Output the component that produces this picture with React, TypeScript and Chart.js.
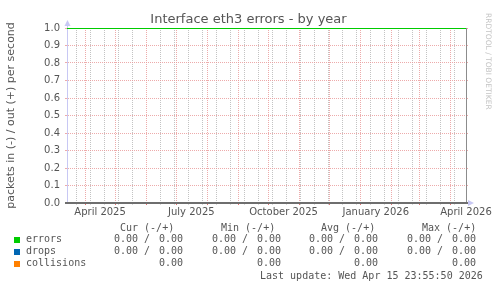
import React, { useEffect, useRef } from "react";
import { Chart, registerables } from "chart.js";

Chart.register(...registerables);

const chartTitle = "Interface eth3 errors - by year";
const yAxisLabel = "packets in (-) / out (+) per second";
const watermark = "RRDTOOL / TOBI OETIKER";
const lastUpdate = "Last update: Wed Apr 15 23:55:50 2026";

const rangeStart = "2025-03-14";
const rangeEnd = "2026-04-16";

const monthLines = [
  "2025-04-01", "2025-05-01", "2025-06-01", "2025-07-01", "2025-08-01", "2025-09-01", "2025-10-01",
  "2025-11-01", "2025-12-01", "2026-01-01", "2026-02-01", "2026-03-01", "2026-04-01",
];
const weekLines = [
  "2025-03-23", "2025-04-06", "2025-04-20", "2025-05-04", "2025-05-18", "2025-06-01", "2025-06-15",
  "2025-06-29", "2025-07-13", "2025-07-27", "2025-08-10", "2025-08-24", "2025-09-07", "2025-09-21",
  "2025-10-05", "2025-10-19", "2025-11-02", "2025-11-16", "2025-11-30", "2025-12-14", "2025-12-28",
  "2026-01-11", "2026-01-25", "2026-02-08", "2026-02-22", "2026-03-08", "2026-03-22", "2026-04-05",
];
const xLabelDates = ["2025-04-16", "2025-07-16", "2025-10-16", "2026-01-16", "2026-04-16"];
const xLabelTexts = ["April 2025", "July 2025", "October 2025", "January 2026", "April 2026"];
const yTickValues = [0, 0.1, 0.2, 0.3, 0.4, 0.5, 0.6, 0.7, 0.8, 0.9, 1.0];

const sampleDates = ["2025-03-14", "2026-04-16"];
const errorsValues = [1, 1];
const dropsValues = [0, 0];
const collisionsValues = [0, 0];

const seriesNames = ["errors", "drops", "collisions"];
const seriesColors = ["#00CC00", "#0066B3", "#FF8000"];
const statColumns = ["Cur", "Min", "Avg", "Max"];
const errorsStats = [[0, 0], [0, 0], [0, 0], [0, 0]];
const dropsStats = [[0, 0], [0, 0], [0, 0], [0, 0]];
const collisionsStats = [0, 0, 0, 0];

const DAY = 86400000;
const toDay = (s: string) => Date.parse(s + "T00:00:00Z") / DAY;

const MAJOR = "rgba(232, 150, 150, 0.8)";
const MINOR = "rgba(185, 185, 185, 0.85)";
const TEXT = "#555555";
const FONT = "'DejaVu Sans', sans-serif";
const MONO = "'DejaVu Sans Mono', monospace";

const headerX = [120, 221, 321, 422];
const inX = [114, 212, 309, 407];
const outX = [159, 257, 354, 452];
const rowTop = [233, 245, 257];

export default function App() {
  const ref = useRef<HTMLCanvasElement | null>(null);

  useEffect(() => {
    const kinds = new Map<number, string>();
    weekLines.forEach((d) => kinds.set(toDay(d), "week"));
    monthLines.forEach((d) => kinds.set(toDay(d), "month"));
    const labelMap = new Map<number, string>();
    xLabelDates.forEach((d, i) => {
      labelMap.set(toDay(d), xLabelTexts[i]);
      if (!kinds.has(toDay(d))) kinds.set(toDay(d), "label");
    });
    const xTickVals = Array.from(kinds.keys()).sort((a, b) => a - b);

    const gridColor = (ctx: any) => {
      const k = kinds.get(ctx.tick?.value);
      if (k === "month") return MAJOR;
      if (k === "week") return MINOR;
      return "rgba(0,0,0,0)";
    };
    const tickColor = (ctx: any) => {
      const k = kinds.get(ctx.tick?.value);
      if (k === "month") return "rgba(225, 100, 100, 0.9)";
      if (k === "week") return "rgba(190,190,190,0.6)";
      return "rgba(0,0,0,0)";
    };

    const decor = {
      id: "decor",
      afterDatasetsDraw(chart: any) {
        const { ctx, chartArea: a } = chart;
        ctx.save();
        // bottom axis line
        ctx.strokeStyle = "#6e6e6e";
        ctx.lineWidth = 2;
        ctx.beginPath();
        ctx.moveTo(a.left - 2, a.bottom);
        ctx.lineTo(a.right + 2, a.bottom);
        ctx.stroke();
        // left axis extension + arrow
        ctx.lineWidth = 1;
        ctx.strokeStyle = "#c8c8f4";
        ctx.beginPath();
        ctx.moveTo(a.left + 0.5, a.top);
        ctx.lineTo(a.left + 0.5, a.top - 4);
        ctx.stroke();
        ctx.fillStyle = "#c8c8f4";
        ctx.beginPath();
        ctx.moveTo(a.left + 0.5, a.top - 8);
        ctx.lineTo(a.left - 2.5, a.top - 2);
        ctx.lineTo(a.left + 3.5, a.top - 2);
        ctx.closePath();
        ctx.fill();
        // right arrow on bottom axis
        ctx.beginPath();
        ctx.moveTo(a.right + 8, a.bottom);
        ctx.lineTo(a.right + 2, a.bottom - 3);
        ctx.lineTo(a.right + 2, a.bottom + 3);
        ctx.closePath();
        ctx.fill();
        ctx.restore();
      },
    };

    const toPts = (vals: number[]) => sampleDates.map((d, i) => ({ x: toDay(d), y: vals[i] }));

    const chart = new Chart(ref.current as HTMLCanvasElement, {
      type: "line",
      data: {
        datasets: [
          { label: seriesNames[2], data: toPts(collisionsValues), borderColor: seriesColors[2], borderWidth: 1, pointRadius: 0 },
          { label: seriesNames[1], data: toPts(dropsValues), borderColor: seriesColors[1], borderWidth: 1, pointRadius: 0 },
          { label: seriesNames[0], data: toPts(errorsValues), borderColor: seriesColors[0], borderWidth: 2, pointRadius: 0 },
        ],
      },
      options: {
        animation: false,
        responsive: false,
        events: [],
        layout: { padding: { left: 0, right: 0, top: 0, bottom: 0 } },
        plugins: {
          legend: { display: false },
          tooltip: { enabled: false },
          title: {
            display: true,
            text: chartTitle,
            color: TEXT,
            font: { family: FONT, size: 13, weight: "normal", lineHeight: 1 },
            padding: { top: 13, bottom: 2 },
          },
        },
        scales: {
          x: {
            type: "linear",
            min: toDay(rangeStart),
            max: toDay(rangeEnd),
            afterBuildTicks: (s: any) => {
              s.ticks = xTickVals.map((v) => ({ value: v }));
            },
            afterFit: (s: any) => {
              s.height = 85;
            },
            ticks: {
              autoSkip: false,
              maxRotation: 0,
              minRotation: 0,
              padding: 1,
              color: TEXT,
              font: { family: FONT, size: 10 },
              callback: (v: any) => labelMap.get(Number(v)) ?? "",
            },
            grid: {
              color: gridColor,
              tickColor: tickColor,
              lineWidth: 1,
              drawTicks: true,
              tickLength: 2,
            },
            border: { display: false, dash: [1, 1] },
          },
          y: {
            type: "linear",
            position: "left",
            min: 0,
            max: 1,
            afterBuildTicks: (s: any) => {
              s.ticks = yTickValues.map((v) => ({ value: v }));
            },
            afterFit: (s: any) => {
              s.width = 67;
            },
            ticks: {
              padding: 5,
              color: TEXT,
              font: { family: FONT, size: 10 },
              callback: (v: any) => Number(v).toFixed(1),
            },
            grid: { color: MAJOR, tickColor: MAJOR, lineWidth: 1, tickLength: 2 },
            border: { display: true, color: "#c8c8f4", dash: [1, 1] },
            title: {
              display: true,
              text: yAxisLabel,
              color: TEXT,
              font: { family: FONT, size: 11 },
              padding: { top: 5, bottom: 0 },
            },
          },
          y2: {
            type: "linear",
            position: "right",
            min: 0,
            max: 1,
            afterBuildTicks: (s: any) => {
              s.ticks = yTickValues.map((v) => ({ value: v }));
            },
            afterFit: (s: any) => {
              s.width = 31;
            },
            ticks: { display: false },
            grid: { drawOnChartArea: false, drawTicks: true, tickLength: 2, tickColor: MAJOR },
            border: { display: true, color: "#8c8c8c" },
          },
        },
      } as any,
      plugins: [decor],
    });
    return () => chart.destroy();
  }, []);

  const mono: React.CSSProperties = {
    position: "absolute",
    fontFamily: MONO,
    fontSize: "10px",
    lineHeight: "12px",
    color: TEXT,
    whiteSpace: "pre",
  };
  const fmt = (v: number) => v.toFixed(2);
  const pairStats = [errorsStats, dropsStats];

  return (
    <div style={{ position: "fixed", left: 0, top: 0, width: 497, height: 288, background: "#ffffff", overflow: "hidden" }}>
      <canvas ref={ref} width={497} height={288} style={{ display: "block", width: 497, height: 288 }} />
      <div
        style={{
          position: "absolute",
          left: 484,
          top: 13,
          writingMode: "vertical-rl",
          fontFamily: FONT,
          fontSize: "7.5px",
          lineHeight: "8px",
          color: "#c4c4c4",
          whiteSpace: "pre",
        }}
      >
        {watermark}
      </div>
      {statColumns.map((c, i) => (
        <span key={"h" + i} style={{ ...mono, left: headerX[i], top: 222 }}>
          {c + " (-/+)"}
        </span>
      ))}
      {seriesNames.map((n, r) => (
        <React.Fragment key={n}>
          <span
            style={{
              position: "absolute",
              left: 14,
              top: rowTop[r] + 4,
              width: 6,
              height: 6,
              background: seriesColors[r],
            }}
          />
          <span style={{ ...mono, left: 26, top: rowTop[r] }}>{n}</span>
          {r < 2
            ? pairStats[r].map((p, i) => (
                <React.Fragment key={i}>
                  <span style={{ ...mono, left: inX[i], top: rowTop[r] }}>{fmt(p[0]) + " /"}</span>
                  <span style={{ ...mono, left: outX[i], top: rowTop[r] }}>{fmt(p[1])}</span>
                </React.Fragment>
              ))
            : collisionsStats.map((v, i) => (
                <span key={i} style={{ ...mono, left: outX[i], top: rowTop[r] }}>
                  {fmt(v)}
                </span>
              ))}
        </React.Fragment>
      ))}
      <span style={{ ...mono, left: 260, top: 270 }}>{lastUpdate}</span>
    </div>
  );
}
